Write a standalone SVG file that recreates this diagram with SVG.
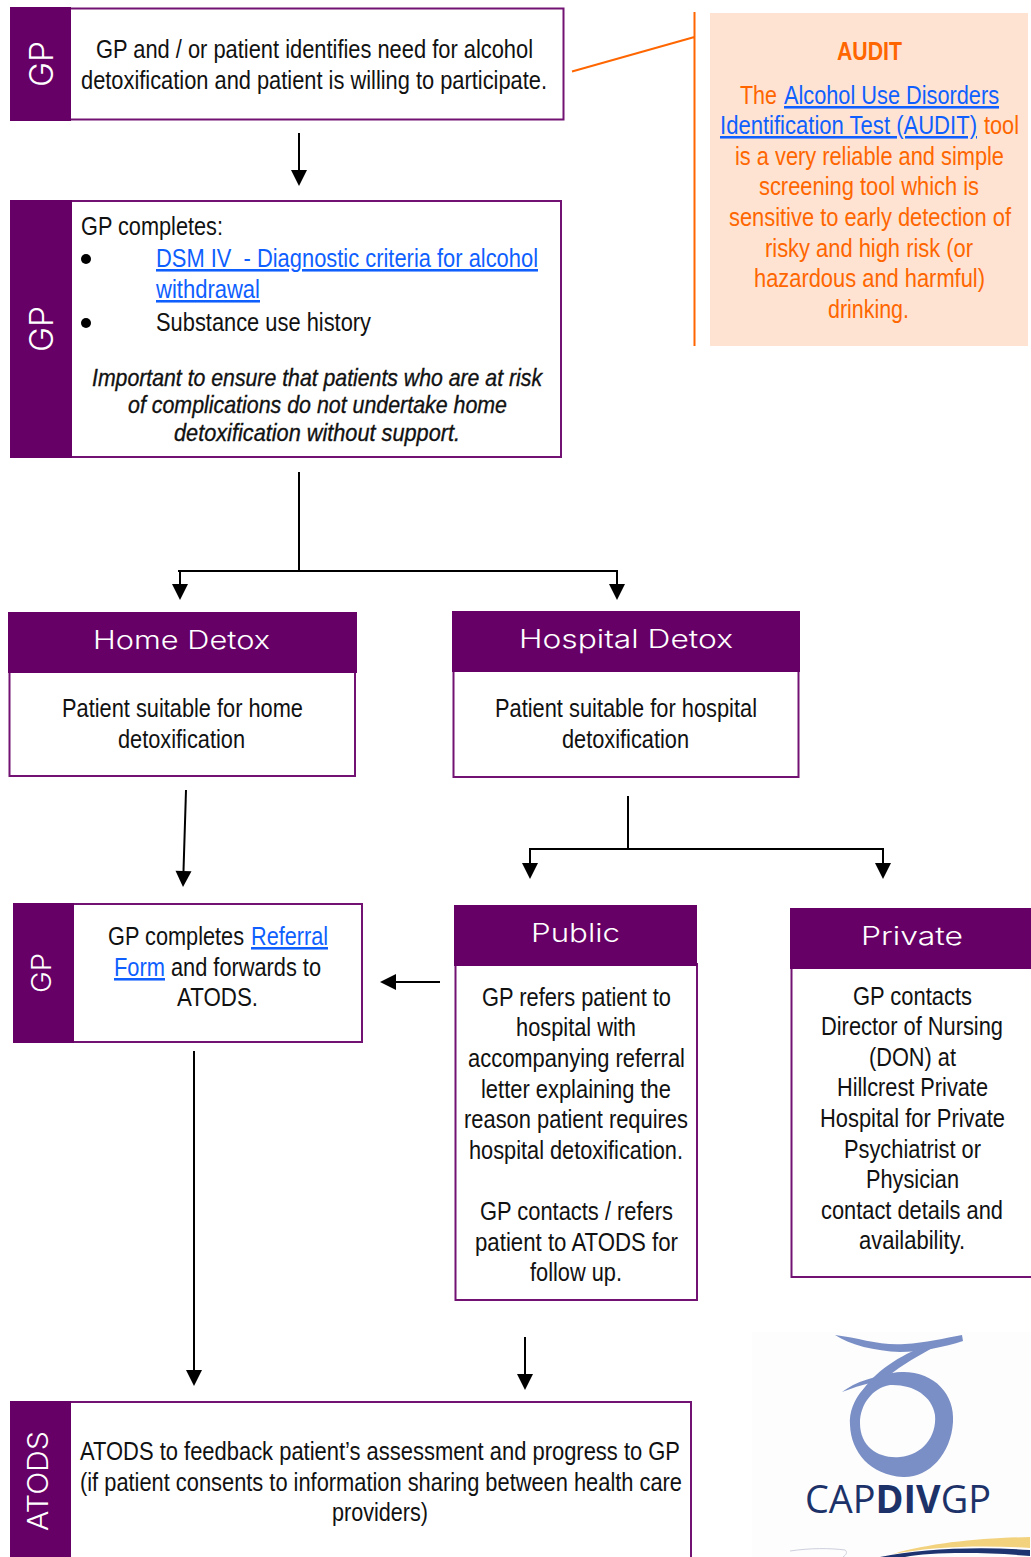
<svg xmlns="http://www.w3.org/2000/svg" width="1031" height="1557" viewBox="0 0 1031 1557">
<style>
text{font-family:"Liberation Sans",Arial,sans-serif;font-size:25.5px;fill:#111}
.i{font-style:italic;font-size:24px;stroke:#111;stroke-width:.35}
.l{fill:#0f5fff;text-decoration:underline}
.o{fill:#ff6600}
.b{font-weight:bold}
.h{font-family:Inter,"Liberation Sans",sans-serif;font-weight:300;fill:#fff;font-size:25px}
.v{font-family:Inter,"Liberation Sans",sans-serif;font-weight:300;fill:#fff;font-size:32px}
.bar{fill:#660066}
.box{fill:#fff;stroke:#721272;stroke-width:2}
.c{fill:none;stroke:#000;stroke-width:2}
.m{marker-end:url(#a)}
.or{fill:none;stroke:#ff6600;stroke-width:2}
</style>
<defs><marker id="a" markerUnits="userSpaceOnUse" markerWidth="18" markerHeight="18" refX="0" refY="8" orient="auto" overflow="visible"><path d="M0,0L16,8L0,16Z" fill="#000"/></marker></defs>

<g id="node-identify">
<rect class="box" x="70" y="8.500" width="493.500" height="111"/>
<rect class="bar" x="10" y="7" width="61" height="114"/>
<text class="v" transform="translate(53,87) rotate(-90)" textLength="46" lengthAdjust="spacingAndGlyphs">GP</text>
<text x="96" y="58" textLength="437" lengthAdjust="spacingAndGlyphs">GP and / or patient identifies need for alcohol</text>
<text x="81" y="89" textLength="466" lengthAdjust="spacingAndGlyphs">detoxification and patient is willing to participate.</text>
</g>

<g id="node-audit">
<rect x="710" y="13" width="318" height="333" fill="#fee3d2"/>
<path class="or" d="M694.500,12V346M572,71.500L694.500,37"/>
<text class="o b" x="837" y="60" textLength="65" lengthAdjust="spacingAndGlyphs">AUDIT</text>
<text class="o" x="740" y="104" textLength="37" lengthAdjust="spacingAndGlyphs">The</text>
<text class="l" x="784" y="104" textLength="215" lengthAdjust="spacingAndGlyphs">Alcohol Use Disorders</text>
<text class="l" x="720" y="134" textLength="257" lengthAdjust="spacingAndGlyphs">Identification Test (AUDIT)</text>
<text class="o" x="984" y="134" textLength="35" lengthAdjust="spacingAndGlyphs">tool</text>
<text class="o" x="735" y="165" textLength="269" lengthAdjust="spacingAndGlyphs">is a very reliable and simple</text>
<text class="o" x="759" y="195" textLength="220" lengthAdjust="spacingAndGlyphs">screening tool which is</text>
<text class="o" x="729" y="226" textLength="282" lengthAdjust="spacingAndGlyphs">sensitive to early detection of</text>
<text class="o" x="765" y="257" textLength="208" lengthAdjust="spacingAndGlyphs">risky and high risk (or</text>
<text class="o" x="754" y="287" textLength="231" lengthAdjust="spacingAndGlyphs">hazardous and harmful)</text>
<text class="o" x="828" y="318" textLength="81" lengthAdjust="spacingAndGlyphs">drinking.</text>
</g>

<g id="node-completes">
<rect class="box" x="71" y="201" width="490" height="256"/>
<rect class="bar" x="10" y="200" width="62" height="258"/>
<text class="v" transform="translate(53,352) rotate(-90)" textLength="46" lengthAdjust="spacingAndGlyphs">GP</text>
<text x="81" y="235" textLength="142" lengthAdjust="spacingAndGlyphs">GP completes:</text>
<circle cx="86" cy="259" r="5" fill="#000"/>
<text class="l" x="156" y="267" textLength="382" lengthAdjust="spacingAndGlyphs" xml:space="preserve">DSM IV  - Diagnostic criteria for alcohol</text>
<text class="l" x="156" y="298" textLength="104" lengthAdjust="spacingAndGlyphs">withdrawal</text>
<circle cx="86" cy="323" r="5" fill="#000"/>
<text x="156" y="331" textLength="215" lengthAdjust="spacingAndGlyphs">Substance use history</text>
<text class="i" x="92" y="386" textLength="450" lengthAdjust="spacingAndGlyphs">Important to ensure that patients who are at risk</text>
<text class="i" x="128" y="413" textLength="379" lengthAdjust="spacingAndGlyphs">of complications do not undertake home</text>
<text class="i" x="174" y="441" textLength="286" lengthAdjust="spacingAndGlyphs">detoxification without support.</text>
</g>

<g id="node-home">
<rect class="box" x="9.500" y="670" width="345.500" height="106"/>
<rect class="bar" x="8" y="612" width="349" height="61"/>
<text class="h" x="93" y="649" textLength="177" lengthAdjust="spacingAndGlyphs">Home Detox</text>
<text x="62" y="717" textLength="241" lengthAdjust="spacingAndGlyphs">Patient suitable for home</text>
<text x="118" y="748" textLength="127" lengthAdjust="spacingAndGlyphs">detoxification</text>
</g>

<g id="node-hospital">
<rect class="box" x="453.500" y="670" width="345" height="107"/>
<rect class="bar" x="452" y="611" width="348" height="61"/>
<text class="h" x="519" y="648" textLength="214" lengthAdjust="spacingAndGlyphs">Hospital Detox</text>
<text x="495" y="717" textLength="262" lengthAdjust="spacingAndGlyphs">Patient suitable for hospital</text>
<text x="562" y="748" textLength="127" lengthAdjust="spacingAndGlyphs">detoxification</text>
</g>

<g id="node-referral">
<rect class="box" x="73" y="904" width="289" height="138"/>
<rect class="bar" x="13" y="903" width="61" height="140"/>
<text class="v" style="font-size:27px" transform="translate(51,993) rotate(-90)" textLength="40" lengthAdjust="spacingAndGlyphs">GP</text>
<text x="108" y="945" textLength="136" lengthAdjust="spacingAndGlyphs">GP completes</text>
<text class="l" x="251" y="945" textLength="77" lengthAdjust="spacingAndGlyphs">Referral</text>
<text class="l" x="114" y="976" textLength="51" lengthAdjust="spacingAndGlyphs">Form</text>
<text x="171" y="976" textLength="150" lengthAdjust="spacingAndGlyphs">and forwards to</text>
<text x="177" y="1006" textLength="81" lengthAdjust="spacingAndGlyphs">ATODS.</text>
</g>

<g id="node-public">
<rect class="box" x="455.500" y="964" width="241.500" height="336"/>
<rect class="bar" x="454" y="905" width="243" height="61"/>
<text class="h" x="531" y="942" textLength="89" lengthAdjust="spacingAndGlyphs">Public</text>
<text x="482" y="1006" textLength="189" lengthAdjust="spacingAndGlyphs">GP refers patient to</text>
<text x="516" y="1036" textLength="120" lengthAdjust="spacingAndGlyphs">hospital with</text>
<text x="468" y="1067" textLength="217" lengthAdjust="spacingAndGlyphs">accompanying referral</text>
<text x="481" y="1098" textLength="190" lengthAdjust="spacingAndGlyphs">letter explaining the</text>
<text x="464" y="1128" textLength="224" lengthAdjust="spacingAndGlyphs">reason patient requires</text>
<text x="469" y="1159" textLength="214" lengthAdjust="spacingAndGlyphs">hospital detoxification.</text>
<text x="480" y="1220" textLength="193" lengthAdjust="spacingAndGlyphs">GP contacts / refers</text>
<text x="475" y="1251" textLength="203" lengthAdjust="spacingAndGlyphs">patient to ATODS for</text>
<text x="530" y="1281" textLength="92" lengthAdjust="spacingAndGlyphs">follow up.</text>
</g>

<g id="node-private">
<rect class="box" x="791.500" y="967" width="245" height="310"/>
<rect class="bar" x="790" y="908" width="241" height="61"/>
<text class="h" x="861" y="945" textLength="102" lengthAdjust="spacingAndGlyphs">Private</text>
<text x="853" y="1005" textLength="119" lengthAdjust="spacingAndGlyphs">GP contacts</text>
<text x="821" y="1035" textLength="182" lengthAdjust="spacingAndGlyphs">Director of Nursing</text>
<text x="869" y="1066" textLength="87" lengthAdjust="spacingAndGlyphs">(DON) at</text>
<text x="837" y="1096" textLength="151" lengthAdjust="spacingAndGlyphs">Hillcrest Private</text>
<text x="820" y="1127" textLength="185" lengthAdjust="spacingAndGlyphs">Hospital for Private</text>
<text x="844" y="1158" textLength="137" lengthAdjust="spacingAndGlyphs">Psychiatrist or</text>
<text x="866" y="1188" textLength="93" lengthAdjust="spacingAndGlyphs">Physician</text>
<text x="821" y="1219" textLength="182" lengthAdjust="spacingAndGlyphs">contact details and</text>
<text x="859" y="1249" textLength="106" lengthAdjust="spacingAndGlyphs">availability.</text>
</g>

<g id="node-atods">
<rect class="box" x="70" y="1402" width="621" height="170"/>
<rect class="bar" x="10" y="1401" width="61" height="156"/>
<text class="v" style="font-size:28px" transform="translate(48,1531) rotate(-90)" textLength="100" lengthAdjust="spacingAndGlyphs">ATODS</text>
<text x="80" y="1460" textLength="600" lengthAdjust="spacingAndGlyphs">ATODS to feedback patient’s assessment and progress to GP</text>
<text x="80" y="1491" textLength="602" lengthAdjust="spacingAndGlyphs">(if patient consents to information sharing between health care</text>
<text x="332" y="1521" textLength="96" lengthAdjust="spacingAndGlyphs">providers)</text>
</g>

<g id="connectors">
<path class="c m" d="M299,133V170"/>
<path class="c" d="M299,472V571M178,571H618"/>
<path class="c m" d="M180,571V584"/>
<path class="c m" d="M617,571V584"/>
<path class="c m" d="M186,790L183.500,871"/>
<path class="c" d="M628,796V849M529,849H884"/>
<path class="c m" d="M530,849V863"/>
<path class="c m" d="M883,849V863"/>
<path class="c m" d="M440,982H396"/>
<path class="c m" d="M194,1051V1370"/>
<path class="c m" d="M525,1337V1374"/>
</g>

<g id="logo">
<rect x="752" y="1332" width="279" height="225" fill="#fdfdfd"/>
<g fill="#7a8fc6">
<path fill-rule="evenodd" d="M850,1425C848,1400 870,1372 903,1372C935,1372 955,1395 953,1422C951,1455 928,1478 903,1477C870,1475 851,1452 850,1425ZM860,1423C860,1448 880,1459 900,1457C922,1455 937,1437 935,1415C932,1395 912,1384 890,1385C872,1388 860,1405 860,1423Z"/>
<path d="M842,1392C855,1382 875,1375 905,1372L905,1378C885,1378 860,1385 842,1392Z"/>
<path d="M858,1398C870,1375 895,1358 922,1347L938,1345C915,1358 890,1370 873,1392Z"/>
<path d="M835,1335C860,1338 880,1346 905,1344C925,1343 945,1338 962,1335L963,1341C945,1347 920,1352 900,1352C875,1351 850,1345 835,1335Z"/>
</g>
<text x="805" y="1513" textLength="186" lengthAdjust="spacingAndGlyphs" style="font-family:'Open Sans','Noto Sans',sans-serif;font-size:39px;fill:#1c3268">CAP<tspan font-weight="bold">DIV</tspan>GP</text>
<path d="M893,1554C930,1543 980,1538 1030,1537V1548C985,1545 935,1546 893,1554Z" fill="#f3d27e"/>
<path d="M880,1557C920,1549 975,1546 1030,1550V1556C985,1552 930,1552 905,1557Z" fill="#1e3470"/>
<path d="M790,1551C810,1548 830,1548 845,1550C848,1552 846,1555 843,1557" fill="none" stroke="#ccd0dc"/>
</g>
</svg>
